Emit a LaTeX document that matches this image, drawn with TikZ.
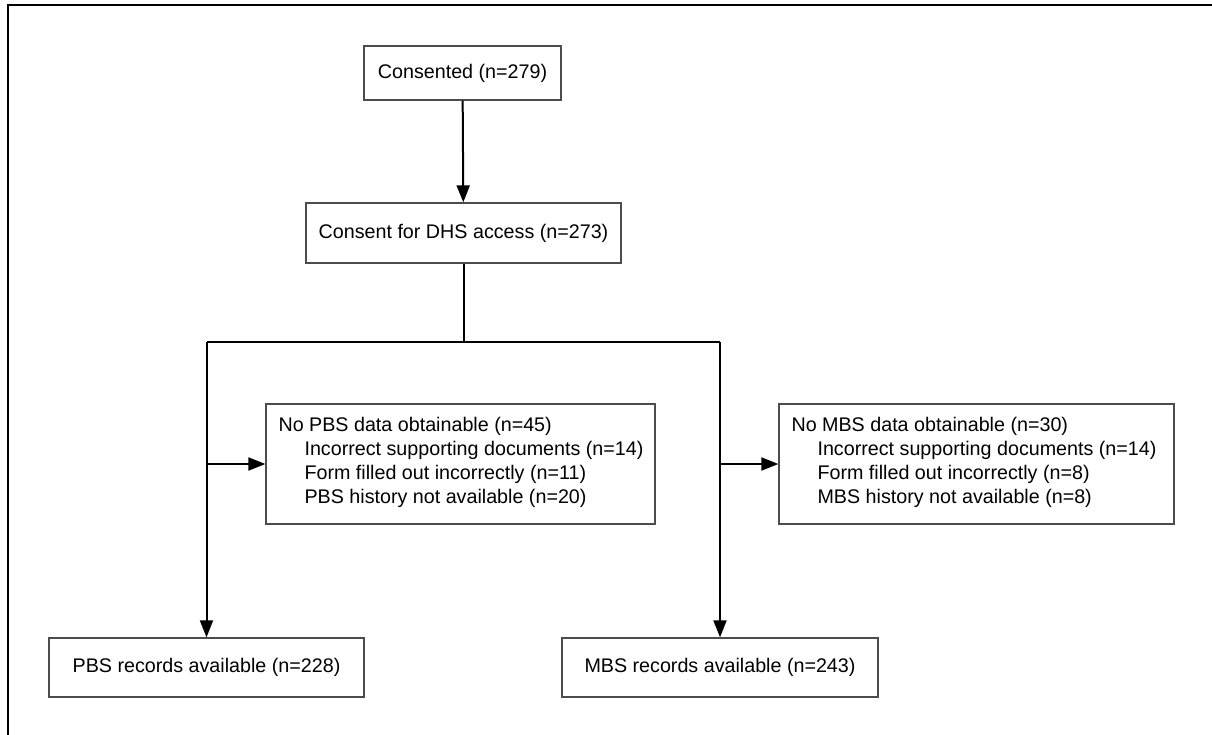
\documentclass[tikz,border=0pt]{standalone}
\usepackage{fontspec}
\setmainfont{Liberation Sans}
\usetikzlibrary{arrows.meta}
\begin{document}
\begin{tikzpicture}[x=1pt,y=-1pt,
  every node/.style={font=\fontsize{19.7}{24}\selectfont},
  boxst/.style={draw=black!70,line width=1.3pt,rectangle,inner sep=0pt,fill=white},
  txtst/.style={align=left,inner sep=0pt,anchor=west},
  conn/.style={line width=2pt,black},
  arr/.style={conn,-{Triangle[length=17pt,width=13pt]}}]
\useasboundingbox (0,0) rectangle (1212,735);
\draw[line width=2.6pt] (8,735) -- (8,5) -- (1212,5);
\node[boxst,minimum width=197pt,minimum height=54pt] (b1) at (462.5,73) {Consented (n=279)};
\node[boxst,minimum width=315pt,minimum height=60pt] (b2) at (463.5,233) {Consent for DHS access (n=273)};
\node[boxst,minimum width=315pt,minimum height=59pt] (pbs) at (206.5,667.5) {PBS records available (n=228)};
\node[boxst,minimum width=316pt,minimum height=59pt] (mbs) at (720,667.5) {MBS records available (n=243)};
\node[boxst,minimum width=389pt,minimum height=120pt] (xpbs) at (460.5,464) {};
\node[boxst,minimum width=395pt,minimum height=120pt] (xmbs) at (976.5,464) {};
\node[txtst] (tpbs) at ([xshift=13pt,yshift=2pt]xpbs.west) {No PBS data obtainable (n=45)\\\hspace*{26pt}Incorrect supporting documents (n=14)\\\hspace*{26pt}Form filled out incorrectly (n=11)\\\hspace*{26pt}PBS history not available (n=20)};
\node[txtst] (tmbs) at ([xshift=13pt,yshift=2pt]xmbs.west) {No MBS data obtainable (n=30)\\\hspace*{26pt}Incorrect supporting documents (n=14)\\\hspace*{26pt}Form filled out incorrectly (n=8)\\\hspace*{26pt}MBS history not available (n=8)};
\coordinate (jc) at (463.5,342);
\coordinate (jl) at (206.5,342);
\coordinate (jr) at (720,342);
\draw[arr] (b1) -- (b2);
\draw[conn] (b2.south) -- (jc);
\draw[conn] (jl) -- (jr);
\draw[arr] (jl) -- (pbs.north);
\draw[arr] (jr) -- (mbs.north);
\draw[arr] (jl |- xpbs.west) -- (xpbs.west);
\draw[arr] (jr |- xmbs.west) -- (xmbs.west);
\end{tikzpicture}
\end{document}
